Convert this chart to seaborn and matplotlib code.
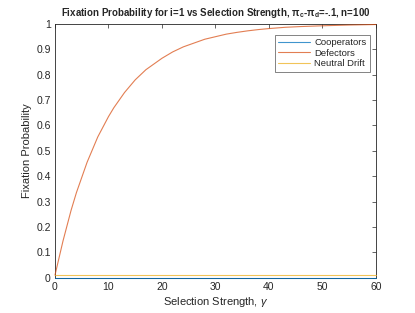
import matplotlib
matplotlib.use("Agg")
import matplotlib.pyplot as plt
import seaborn as sns
import numpy as np
import pandas as pd

# selection strength values and fixation probabilities
gamma = [0, 0.5, 1, 1.5, 2, 2.5, 3, 4, 5, 6, 7, 8, 9, 10, 11, 12, 13, 14, 15,
         16, 17, 18, 19, 20, 22, 24, 26, 28, 30, 32, 34, 36, 38, 40, 43, 46,
         50, 55, 60]
defectors = [0.01, 0.055, 0.1, 0.145, 0.185, 0.225, 0.265, 0.335, 0.395, 0.455,
             0.505, 0.555, 0.595, 0.635, 0.67, 0.70, 0.73, 0.755, 0.78, 0.80,
             0.82, 0.835, 0.85, 0.865, 0.89, 0.91, 0.925, 0.94, 0.95, 0.96,
             0.967, 0.973, 0.978, 0.982, 0.987, 0.99, 0.993, 0.996, 0.998]
cooperators = [0.0] * len(gamma)
neutral = [0.01] * len(gamma)

series = {"Cooperators": cooperators, "Defectors": defectors, "Neutral Drift": neutral}
df = pd.concat(
    [pd.DataFrame({"gamma": gamma, "prob": v, "series": k}) for k, v in series.items()],
    ignore_index=True,
)

sns.set_style("white")
plt.rcParams["font.family"] = ["Liberation Sans", "DejaVu Sans"]
plt.rcParams["mathtext.fontset"] = "custom"
plt.rcParams["mathtext.rm"] = "Liberation Sans"
plt.rcParams["mathtext.it"] = "Liberation Sans:italic"
plt.rcParams["mathtext.bf"] = "Liberation Sans:bold"

palette = {"Cooperators": "#0072BD", "Defectors": "#D95319", "Neutral Drift": "#EDB120"}

fig = plt.figure(figsize=(4.15, 3.13), dpi=100)
ax = fig.add_axes([0.1325, 0.1128, 0.7735, 0.8105])
sns.lineplot(data=df, x="gamma", y="prob", hue="series", hue_order=list(series.keys()),
             palette=palette, linewidth=0.8, ax=ax, legend=False)
for ln in ax.get_lines():
    ln.set_alpha(0.75)
    ln.set_zorder(3)
    ln.set_clip_on(False)

ax.set_xlim(0, 60)
ax.set_ylim(0, 1)
ax.set_xticks(range(0, 61, 10))
ax.set_yticks(np.round(np.arange(0, 1.01, 0.1), 1))
ax.set_yticklabels(["0", "0.1", "0.2", "0.3", "0.4", "0.5", "0.6", "0.7", "0.8", "0.9", "1"])
ax.tick_params(direction="in", length=3, width=0.5, labelsize=7.5, colors="#262626",
               top=True, right=True, pad=3)
for s in ax.spines.values():
    s.set_color("#262626")
    s.set_linewidth(0.6)
    s.set_zorder(2)

ax.set_xlabel(r"Selection Strength, $\gamma$", fontsize=8, color="#262626", labelpad=2)
ax.set_ylabel("Fixation Probability", fontsize=8, color="#262626", labelpad=3)
ax.set_title(r"Fixation Probability for i=1 vs Selection Strength, $\mathbf{\pi_c}$-$\mathbf{\pi_d}$=-.1, n=100",
             fontsize=7, fontweight="bold", pad=6)

handles = [plt.Line2D([0], [0], color=palette[k], linewidth=0.8, alpha=0.75) for k in series]
leg = ax.legend(handles, list(series.keys()), loc="upper right", fontsize=6.8,
                frameon=True, fancybox=False, handlelength=3.4, borderpad=0.35,
                labelspacing=0.15, handletextpad=0.4, bbox_to_anchor=(0.995, 0.975))
leg.get_frame().set_edgecolor("#262626")
leg.get_frame().set_linewidth(0.5)

fig.savefig("out.png", dpi=100)
